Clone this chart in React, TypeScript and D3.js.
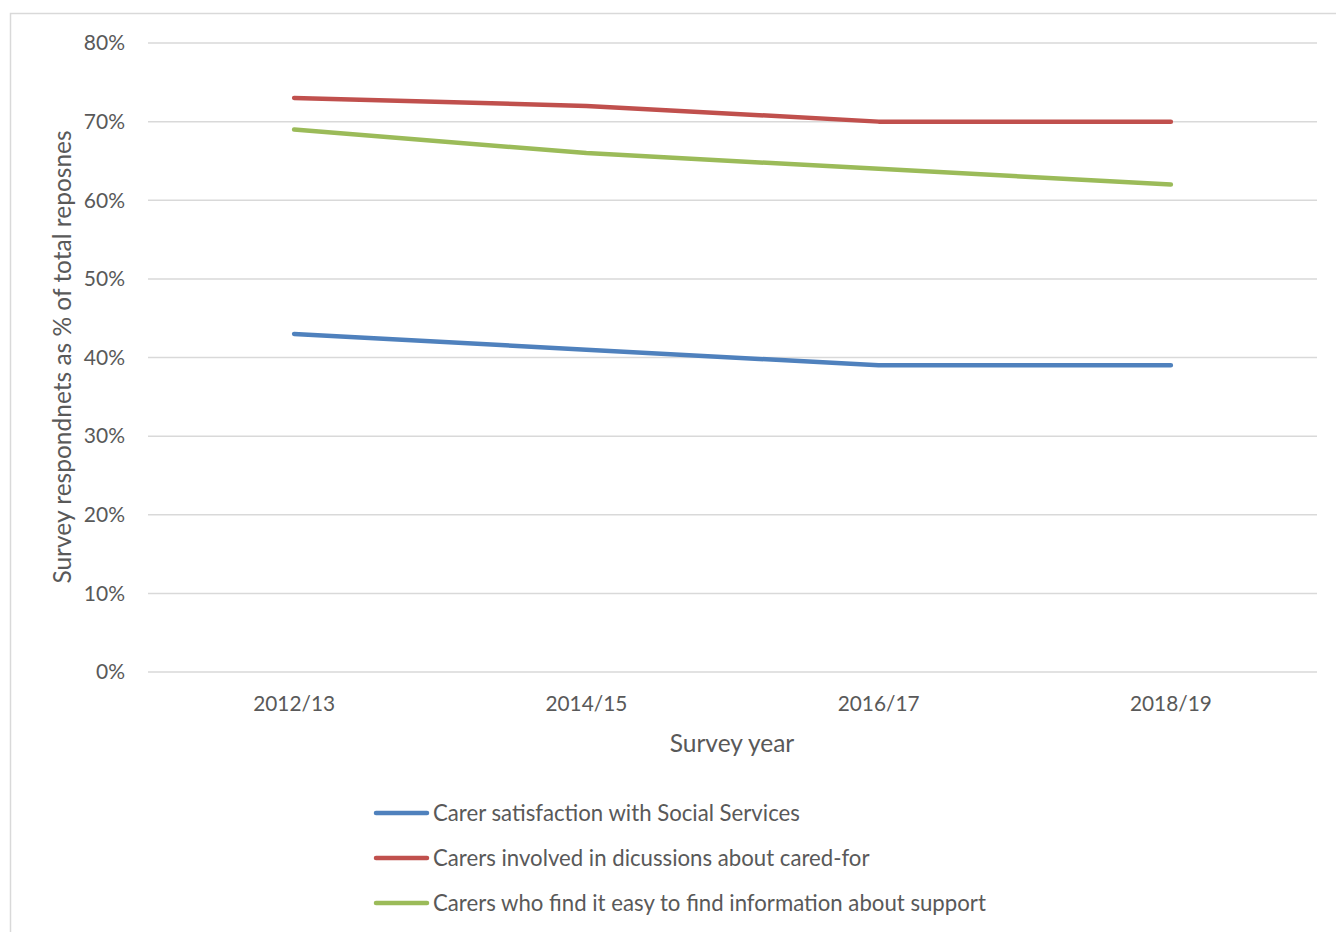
import React from "react";
import * as d3 from "d3";

const categories = ["2012/13", "2014/15", "2016/17", "2018/19"];
const seriesNames = [
  "Carer satisfaction with Social Services",
  "Carers involved in dicussions about cared-for",
  "Carers who find it easy to find information about support",
];
const satisfaction = [0.43, 0.41, 0.39, 0.39];
const involved = [0.73, 0.72, 0.70, 0.70];
const easyInfo = [0.69, 0.66, 0.64, 0.62];
const yTicks = [0, 0.1, 0.2, 0.3, 0.4, 0.5, 0.6, 0.7, 0.8];
const colors = ["#4F81BD", "#C0504D", "#9BBB59"];

const W = 1336;
const H = 932;
const FONT = "Lato, 'Open Sans', sans-serif";
const TXT = "#595959";

export default function App() {
  const x = d3.scaleBand().domain(categories).range([148, 1317]);
  const y = d3.scaleLinear().domain([0, 0.8]).range([672, 43]);
  const line = d3
    .line<number>()
    .x((_, i) => (x(categories[i]) as number) + x.bandwidth() / 2)
    .y((d) => y(d));
  const fmt = d3.format(".0%");
  const series = [satisfaction, involved, easyInfo];

  return (
    <svg
      width={W}
      height={H}
      style={{ position: "absolute", left: 0, top: 0, background: "#fff" }}
      fontFamily={FONT}
    >
      <rect x={10.5} y={13.5} width={1400} height={1000} fill="#fff" stroke="#D9D9D9" strokeWidth={1.5} />
      {yTicks.map((t) => (
        <g key={t}>
          <line x1={148} x2={1317} y1={y(t)} y2={y(t)} stroke="#D9D9D9" strokeWidth={1.5} />
          <text x={125} y={y(t)} dy="0.35em" textAnchor="end" fontSize={21} fill={TXT}>
            {fmt(t)}
          </text>
        </g>
      ))}
      {categories.map((c) => (
        <text
          key={c}
          x={(x(c) as number) + x.bandwidth() / 2}
          y={704}
          dy="0.35em"
          textAnchor="middle"
          fontSize={20.8}
          fill={TXT}
        >
          {c}
        </text>
      ))}
      <text x={732} y={743} dy="0.35em" textAnchor="middle" fontSize={24.5} fill={TXT}>
        Survey year
      </text>
      <text
        transform="translate(62,357) rotate(-90)"
        dy="0.35em"
        textAnchor="middle"
        fontSize={24.5}
        fill={TXT}
      >
        Survey respondnets as % of total reposnes
      </text>
      {series.map((s, i) => (
        <path
          key={i}
          d={line(s) as string}
          fill="none"
          stroke={colors[i]}
          strokeWidth={4.5}
          strokeLinecap="round"
          strokeLinejoin="round"
        />
      ))}
      {seriesNames.map((n, i) => (
        <g key={n}>
          <line x1={376} x2={427} y1={813 + i * 45} y2={813 + i * 45} stroke={colors[i]} strokeWidth={4.5} strokeLinecap="round" />
          <text x={433} y={813 + i * 45} dy="0.35em" fontSize={22.2} fill={TXT}>
            {n}
          </text>
        </g>
      ))}
    </svg>
  );
}
